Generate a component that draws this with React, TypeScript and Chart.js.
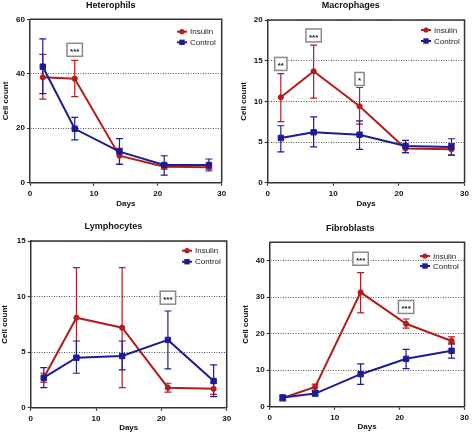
import React, { useEffect, useRef } from "react";
import { Chart, registerables } from "chart.js";

Chart.register(...registerables);

const FONT = "'Liberation Sans', Arial, Helvetica, sans-serif";
const RED = "#b51c1c";
const BLUE = "#1c1c96";
const AXIS = "#333333";
const TEXT = "#111111";

// ---------- data ----------
const days = [2, 7, 14, 21, 28];
const seriesNames = ["Insulin", "Control"];

// Heterophils
const hetInsulin = [38.7, 38.2, 9.9, 5.9, 5.7];
const hetInsulinLow = [30.7, 31.6, 6.7, 5.0, 5.0];
const hetInsulinHigh = [47.1, 44.9, 12.6, 6.9, 6.6];
const hetControl = [42.6, 19.8, 11.4, 6.5, 6.5];
const hetControlLow = [32.7, 15.7, 6.7, 2.8, 4.3];
const hetControlHigh = [52.8, 24.0, 16.2, 9.9, 8.7];
const hetSig = [{ day: 7, value: 48.8, text: "***" }];

// Macrophages
const macInsulin = [10.5, 13.7, 9.4, 4.2, 4.1];
const macInsulinLow = [7.5, 10.4, 7.2, 3.7, 3.4];
const macInsulinHigh = [13.4, 16.9, 11.7, 4.7, 4.8];
const macControl = [5.5, 6.2, 5.9, 4.5, 4.4];
const macControlLow = [3.8, 4.4, 4.1, 3.7, 3.4];
const macControlHigh = [7.0, 8.1, 7.6, 5.2, 5.4];
const macSig = [
  { day: 2, value: 14.6, text: "**" },
  { day: 7, value: 18.1, text: "***" },
  { day: 14, value: 12.75, text: "*" },
];

// Lymphocytes
const lymInsulin = [2.7, 8.1, 7.2, 1.8, 1.7];
const lymInsulinLow = [2.3, 4.6, 1.8, 1.4, 1.2];
const lymInsulinHigh = [3.1, 12.6, 12.6, 2.2, 2.2];
const lymControl = [2.7, 4.5, 4.65, 6.1, 2.4];
const lymControlLow = [1.8, 3.1, 3.4, 3.5, 1.0];
const lymControlHigh = [3.6, 6.0, 6.0, 8.7, 3.85];
const lymSig = [{ day: 21, value: 9.9, text: "***" }];

// Fibroblasts
const fibInsulin = [2.4, 5.4, 31.3, 22.7, 18.0];
const fibInsulinLow = [2.0, 4.5, 25.7, 21.5, 17.1];
const fibInsulinHigh = [2.9, 6.2, 36.7, 24.0, 19.1];
const fibControl = [2.5, 3.6, 8.9, 13.1, 15.3];
const fibControlLow = [1.6, 3.0, 6.1, 10.4, 13.3];
const fibControlHigh = [3.2, 4.4, 11.7, 15.7, 17.4];
const fibSig = [
  { day: 14, value: 40.5, text: "***" },
  { day: 21, value: 27.3, text: "***" },
];

// ---------- panels (layout/style) ----------
const panels = [
  {
    title: "Heterophils", x: 0, y: 0, w: 236, h: 215,
    area: { left: 30, top: 19.3, right: 221.7, bottom: 182.7 },
    titleY: 5.4, xTitleY: 203.3, yTitleX: 5.8,
    yMax: 60, yStep: 20, includeBounds: true,
    legend: { x: 177, y: 31.7, gap: 10.6 },
    insulin: [hetInsulin, hetInsulinLow, hetInsulinHigh],
    control: [hetControl, hetControlLow, hetControlHigh],
    sig: hetSig,
  },
  {
    title: "Macrophages", x: 236, y: 0, w: 236, h: 215,
    area: { left: 31.7, top: 20, right: 229.3, bottom: 182.7 },
    titleY: 5.4, xTitleY: 203.8, yTitleX: 7.3,
    yMax: 20, yStep: 5, includeBounds: true,
    legend: { x: 185, y: 30, gap: 11 },
    insulin: [macInsulin, macInsulinLow, macInsulinHigh],
    control: [macControl, macControlLow, macControlHigh],
    sig: macSig,
  },
  {
    title: "Lymphocytes", x: 0, y: 215, w: 236, h: 220,
    area: { left: 30.7, top: 26, right: 226.7, bottom: 192.7 },
    titleY: 12, xTitleY: 213, yTitleX: 5,
    yMax: 15, yStep: 5, includeBounds: true,
    legend: { x: 182, y: 35.7, gap: 11 },
    insulin: [lymInsulin, lymInsulinLow, lymInsulinHigh],
    control: [lymControl, lymControlLow, lymControlHigh],
    sig: lymSig,
  },
  {
    title: "Fibroblasts", x: 236, y: 215, w: 236, h: 220,
    area: { left: 33.7, top: 27.3, right: 228.7, bottom: 191.7 },
    titleY: 13.3, xTitleY: 212.2, yTitleX: 10,
    yMax: 45, yStep: 10, includeBounds: false,
    legend: { x: 184, y: 41, gap: 10 },
    insulin: [fibInsulin, fibInsulinLow, fibInsulinHigh],
    control: [fibControl, fibControlLow, fibControlHigh],
    sig: fibSig,
  },
];

// ---------- plugins ----------
const errorBarPlugin = {
  id: "errorBars",
  beforeDatasetsDraw(chart: any) {
    const { ctx } = chart;
    const ys = chart.scales.y;
    chart.data.datasets.forEach((ds: any, i: number) => {
      const meta = chart.getDatasetMeta(i);
      ctx.save();
      ctx.strokeStyle = ds.borderColor;
      ctx.lineWidth = 1.2;
      meta.data.forEach((pt: any, j: number) => {
        const x = pt.x;
        const yl = ys.getPixelForValue(ds.errorLow[j]);
        const yh = ys.getPixelForValue(ds.errorHigh[j]);
        const c = 3.5;
        ctx.beginPath();
        ctx.moveTo(x, yl);
        ctx.lineTo(x, yh);
        ctx.moveTo(x - c, yl);
        ctx.lineTo(x + c, yl);
        ctx.moveTo(x - c, yh);
        ctx.lineTo(x + c, yh);
        ctx.stroke();
      });
      ctx.restore();
    });
  },
};

const framePlugin = {
  id: "frame",
  beforeDatasetsDraw(chart: any) {
    const { ctx, chartArea: a } = chart;
    ctx.save();
    ctx.strokeStyle = AXIS;
    ctx.lineWidth = 1.5;
    ctx.beginPath();
    ctx.moveTo(a.left, a.top);
    ctx.lineTo(a.right, a.top);
    ctx.lineTo(a.right, a.bottom);
    ctx.stroke();
    ctx.restore();
  },
};

function makeSigPlugin(items: { day: number; value: number; text: string }[]) {
  return {
    id: "sig",
    afterDatasetsDraw(chart: any) {
      const { ctx } = chart;
      const xs = chart.scales.x;
      const ys = chart.scales.y;
      ctx.save();
      ctx.font = `bold 8px ${FONT}`;
      items.forEach((it) => {
        const cx = xs.getPixelForValue(it.day);
        const cy = ys.getPixelForValue(it.value);
        const tw = ctx.measureText(it.text).width;
        const w = Math.max(tw + 6, 9);
        const h = 13;
        ctx.fillStyle = "#ffffff";
        ctx.fillRect(cx - w / 2, cy - h / 2, w, h);
        ctx.strokeStyle = "#8a8a8a";
        ctx.lineWidth = 1.5;
        ctx.strokeRect(cx - w / 2, cy - h / 2, w, h);
        ctx.fillStyle = "#222222";
        ctx.textAlign = "center";
        ctx.textBaseline = "middle";
        ctx.fillText(it.text, cx, cy + 2);
      });
      ctx.restore();
    },
  };
}

function makeLegendPlugin(pos: { x: number; y: number; gap: number }) {
  return {
    id: "insideLegend",
    afterDraw(chart: any) {
      const { ctx } = chart;
      ctx.save();
      chart.data.datasets.forEach((ds: any, i: number) => {
        const y = pos.y + i * pos.gap;
        const x0 = pos.x;
        ctx.strokeStyle = ds.borderColor;
        ctx.fillStyle = ds.borderColor;
        ctx.lineWidth = 2;
        ctx.beginPath();
        ctx.moveTo(x0, y);
        ctx.lineTo(x0 + 10, y);
        ctx.stroke();
        if (ds.pointStyle === "rect") {
          ctx.fillRect(x0 + 5 - 2.7, y - 2.7, 5.4, 5.4);
        } else {
          ctx.beginPath();
          ctx.arc(x0 + 5, y, 2.6, 0, Math.PI * 2);
          ctx.fill();
        }
        ctx.fillStyle = "#222222";
        ctx.font = `8px ${FONT}`;
        ctx.textAlign = "left";
        ctx.textBaseline = "middle";
        ctx.fillText(ds.label, x0 + 13, y + 0.5);
      });
      ctx.restore();
    },
  };
}

function buildConfig(p: any) {
  const titleLH = 9 * 1.2;
  const tPadTop = Math.max(0, p.titleY - titleLH / 2);
  const tPadBottom = p.area.top - titleLH - tPadTop;
  const axLH = 8 * 1.2;
  const xPadBottom = Math.max(0, p.h - p.xTitleY - axLH / 2);
  const yPadTop = Math.max(0, p.yTitleX - axLH / 2);
  const tickFont = { family: FONT, size: 8, weight: "bold" as const };
  const mk = (arr: number[][], label: string, color: string, style: string, radius: number, order: number) => ({
    label,
    data: days.map((d, i) => ({ x: d, y: arr[0][i] })),
    errorLow: arr[1],
    errorHigh: arr[2],
    borderColor: color,
    backgroundColor: color,
    pointBackgroundColor: color,
    pointBorderColor: color,
    borderWidth: 2,
    pointStyle: style,
    pointRadius: radius,
    pointBorderWidth: 1,
    tension: 0,
    order,
  });
  return {
    type: "line" as const,
    data: {
      datasets: [
        mk(p.insulin, seriesNames[0], RED, "circle", 2.6, 1),
        mk(p.control, seriesNames[1], BLUE, "rect", 3.8, 0),
      ],
    },
    options: {
      responsive: false,
      animation: false as const,
      devicePixelRatio: 1,
      layout: { padding: { left: 0, top: 0, bottom: 0, right: p.w - p.area.right } },
      plugins: {
        legend: { display: false },
        tooltip: { enabled: false },
        title: {
          display: true,
          text: p.title,
          color: TEXT,
          font: { family: FONT, size: 9, weight: "bold" as const },
          padding: { top: tPadTop, bottom: tPadBottom },
        },
      },
      scales: {
        x: {
          type: "linear" as const,
          min: 0,
          max: 30,
          ticks: { stepSize: 10, font: tickFont, color: TEXT, padding: 3 },
          grid: { drawOnChartArea: false, drawTicks: true, tickLength: 3, tickColor: AXIS, tickWidth: 1.2 },
          border: { color: AXIS, width: 1.5 },
          title: {
            display: true,
            text: "Days",
            color: TEXT,
            font: tickFont,
            padding: { top: 0, bottom: xPadBottom },
          },
          afterFit: (s: any) => {
            s.height = p.h - p.area.bottom;
          },
        },
        y: {
          type: "linear" as const,
          min: 0,
          max: p.yMax,
          ticks: { stepSize: p.yStep, font: tickFont, color: TEXT, padding: 2, includeBounds: p.includeBounds },
          grid: { color: "#555555", lineWidth: 1, drawTicks: true, tickLength: 3, tickColor: AXIS, tickWidth: 1.2 },
          border: { color: AXIS, width: 1.5, dash: [1, 1.5] },
          title: {
            display: true,
            text: "Cell count",
            color: TEXT,
            font: tickFont,
            padding: { top: yPadTop, bottom: 0 },
          },
          afterFit: (s: any) => {
            s.width = p.area.left;
          },
        },
      },
    },
    plugins: [errorBarPlugin, framePlugin, makeSigPlugin(p.sig), makeLegendPlugin(p.legend)],
  };
}

function Panel({ p }: { p: any }) {
  const ref = useRef<HTMLCanvasElement>(null);
  useEffect(() => {
    const canvas = ref.current;
    if (!canvas) return;
    const chart = new Chart(canvas, buildConfig(p) as any);
    return () => chart.destroy();
  }, [p]);
  return (
    <canvas
      ref={ref}
      width={p.w}
      height={p.h}
      style={{ position: "absolute", left: p.x, top: p.y, width: p.w, height: p.h }}
    />
  );
}

export default function App() {
  return (
    <div style={{ position: "fixed", left: 0, top: 0, width: 472, height: 435, background: "#ffffff" }}>
      {panels.map((p) => (
        <Panel key={p.title} p={p} />
      ))}
    </div>
  );
}
